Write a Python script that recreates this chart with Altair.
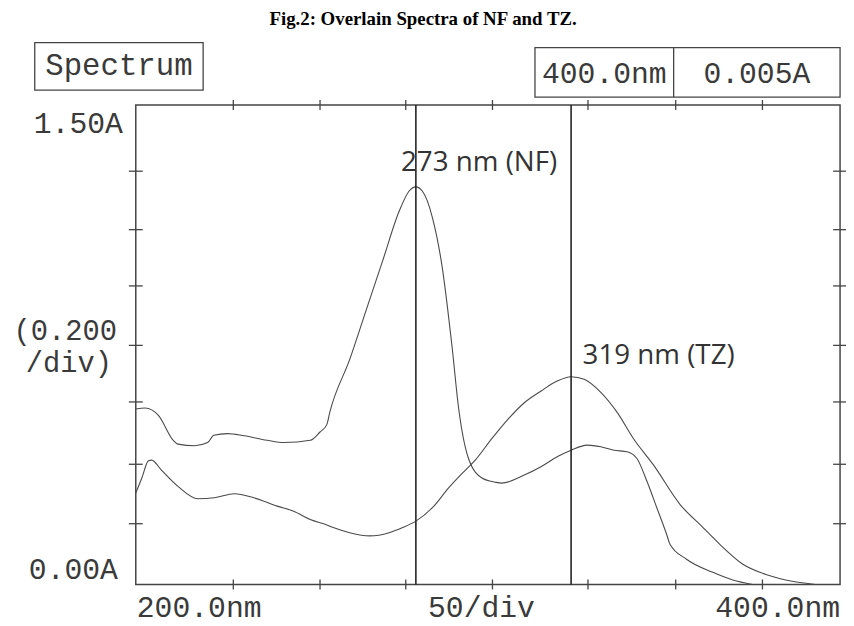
import altair as alt
import pandas as pd

# ---- data ----
nf_nm = [190.0, 192.8, 196.7, 201.1, 202.5, 207.4, 211.3, 213.1, 217.2, 222.1, 228.9, 233.9,
         241.7, 244.6, 246.6, 247.5, 253.4, 258.3, 263.2, 268.1, 271.0, 273.0, 274.9, 277.9,
         280.8, 283.7, 285.7, 288.6, 292.6, 296.5, 298.4, 305.3, 310.2, 315.0, 319.0, 323.8,
         327.8, 331.7, 335.6, 338.5, 341.5, 344.4, 347.3, 348.3, 353.2, 361.0, 366.9, 372.8]
nf_abs = [0.549, 0.552, 0.529, 0.451, 0.439, 0.434, 0.444, 0.467, 0.472, 0.465, 0.451, 0.444,
          0.451, 0.477, 0.500, 0.539, 0.704, 0.859, 1.014, 1.169, 1.231, 1.244, 1.231, 1.148,
          0.993, 0.746, 0.549, 0.394, 0.333, 0.320, 0.317, 0.343, 0.369, 0.400, 0.420, 0.436,
          0.431, 0.420, 0.415, 0.394, 0.322, 0.240, 0.157, 0.126, 0.079, 0.038, 0.014, 0.000]

tz_nm = [190.0, 191.8, 193.7, 194.7, 197.6, 202.5, 208.4, 213.3, 219.2, 225.0, 231.9, 236.8,
         241.7, 246.6, 248.5, 253.4, 259.3, 265.1, 269.1, 273.0, 277.9, 282.7, 287.7, 290.6,
         295.5, 300.4, 305.3, 310.2, 315.0, 319.0, 322.9, 327.8, 332.6, 337.5, 343.4, 351.3,
         358.1, 363.0, 369.8, 377.7, 384.5, 391.4]
tz_abs = [0.286, 0.333, 0.386, 0.389, 0.358, 0.307, 0.268, 0.271, 0.284, 0.271, 0.245, 0.229,
          0.203, 0.186, 0.178, 0.162, 0.152, 0.162, 0.178, 0.198, 0.240, 0.302, 0.358, 0.389,
          0.456, 0.518, 0.570, 0.606, 0.637, 0.650, 0.642, 0.601, 0.539, 0.456, 0.374, 0.250,
          0.178, 0.126, 0.064, 0.028, 0.010, 0.000]

peak_nm = [273, 319]
peak_labels = ["273 nm (NF)", "319 nm (TZ)"]
label_nm = [268.6, 322.4]
label_abs = [1.318, 0.715]

x_tick_nm = [218.9, 244.6, 270.0, 295.7, 324.0, 350.0, 375.7]
y_tick_abs = [0.190, 0.376, 0.571, 0.748, 0.934, 1.110, 1.293]

title_text = "Fig.2: Overlain Spectra of NF and TZ."

W, H = 711, 484
MONO = "Liberation Mono"
INK = "#3a3a3a"

xs = alt.Scale(domain=[190, 398.7], nice=False, zero=False)
ys = alt.Scale(domain=[0, 1.5], nice=False, zero=False)

curves = pd.concat([
    pd.DataFrame({"nm": nf_nm, "A": nf_abs, "series": "NF"}),
    pd.DataFrame({"nm": tz_nm, "A": tz_abs, "series": "TZ"}),
])
peaks = pd.DataFrame({"nm": peak_nm, "label": peak_labels, "lx": label_nm, "ly": label_abs})
xt = pd.DataFrame({"nm": x_tick_nm})
yt = pd.DataFrame({"A": y_tick_abs})
one = pd.DataFrame({"k": [0]})

lines = alt.Chart(curves).mark_line(interpolate="monotone", color="#4a4a4a", strokeWidth=1.1).encode(
    x=alt.X("nm:Q", scale=xs, axis=None),
    y=alt.Y("A:Q", scale=ys, axis=None),
    detail="series:N",
)

rules = alt.Chart(peaks).mark_rule(color="#222222", strokeWidth=1.6).encode(
    x=alt.X("nm:Q", scale=xs, axis=None)
)

ann = alt.Chart(peaks).mark_text(align="left", baseline="middle", font="Open Sans",
                                 fontSize=28, color="#333333").encode(
    x=alt.X("lx:Q", scale=xs, axis=None),
    y=alt.Y("ly:Q", scale=ys, axis=None),
    text="label:N",
)

tick_style = dict(color="#444444", strokeWidth=1.3)
xb = alt.Chart(xt).mark_rule(**tick_style).encode(
    x=alt.X("nm:Q", scale=xs, axis=None), y=alt.value(H - 5), y2=alt.value(H + 5))
xtp = alt.Chart(xt).mark_rule(**tick_style).encode(
    x=alt.X("nm:Q", scale=xs, axis=None), y=alt.value(-5), y2=alt.value(5))
yl = alt.Chart(yt).mark_rule(**tick_style).encode(
    y=alt.Y("A:Q", scale=ys, axis=None), x=alt.value(-7), x2=alt.value(7))
yr = alt.Chart(yt).mark_rule(**tick_style).encode(
    y=alt.Y("A:Q", scale=ys, axis=None), x=alt.value(W - 7), x2=alt.value(W + 7))


def txt(s, x, y, align="left", size=30, font=MONO, weight="normal", color=INK):
    return alt.Chart(one).mark_text(text=s, align=align, baseline="middle", font=font,
                                    fontSize=size, fontWeight=weight, color=color).encode(
        x=alt.value(x), y=alt.value(y))


def box(x1, x2, y1, y2):
    return alt.Chart(one).mark_rect(fill=None, stroke="#444444", strokeWidth=1.3).encode(
        x=alt.value(x1), x2=alt.value(x2), y=alt.value(y1), y2=alt.value(y2))


divider = alt.Chart(one).mark_rule(color="#444444", strokeWidth=1.3).encode(
    x=alt.value(543), y=alt.value(-58), y2=alt.value(-8))

texts = [
    txt(title_text, 290, -87, align="center", size=19, font="Liberation Serif", weight="bold",
        color="#000000"),
    txt("Spectrum", -17, -39, align="center", size=31),
    txt("400.0nm", 473, -31, align="center"),
    txt("0.005A", 627, -31, align="center"),
    txt("1.50A", -13, 19, align="right"),
    txt("(0.200", -19, 228, align="right", size=29),
    txt("/div)", -24, 261, align="right", size=29),
    txt("0.00A", -18, 469, align="right"),
    txt("200.0nm", 1, 508, align="left"),
    txt("50/div", 295, 508, align="left"),
    txt("400.0nm", 711, 508, align="right"),
]

chart = alt.layer(
    lines, rules, ann, xb, xtp, yl, yr,
    box(-102, 68, -63, -15), box(403, 711, -58, -8), divider,
    *texts,
).properties(
    width=W, height=H,
    padding={"left": 129, "top": 95, "right": 6, "bottom": 39},
    autosize=alt.AutoSizeParams(type="none"),
    background="white",
).configure_view(stroke="#444444", strokeWidth=1.5)

chart.save("out.html", embed_options={"renderer": "svg", "actions": False})
